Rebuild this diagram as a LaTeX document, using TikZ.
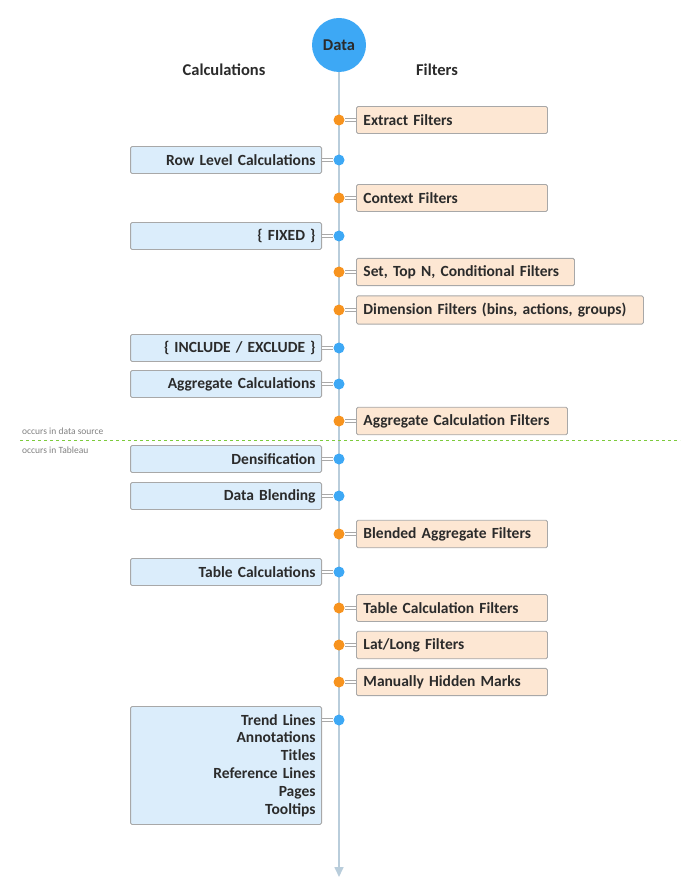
\documentclass[tikz,border=0pt]{standalone}
\usepackage{fontspec}
\setmainfont{Carlito}
\usetikzlibrary{arrows.meta}
\definecolor{spinecol}{HTML}{B9CDDB}
\definecolor{datablue}{HTML}{3DA8F5}
\definecolor{calcfill}{HTML}{DBEDFB}
\definecolor{filtfill}{HTML}{FDE7D3}
\definecolor{dotorange}{HTML}{F7931E}
\definecolor{boxline}{HTML}{A8A8A8}
\definecolor{txtcol}{HTML}{2B2B2B}
\definecolor{splitgreen}{HTML}{7CCB3C}
\tikzstyle{calcbox} = [draw=boxline,fill=calcfill,line width=0.9pt,rounded corners=1.5pt,
  anchor=east,text width=179pt,align=right,minimum height=27pt,inner sep=6pt,
  font=\bfseries\fontsize{15.5}{17.8}\selectfont,text=txtcol]
\tikzstyle{filtbox} = [draw=boxline,fill=filtfill,line width=0.9pt,rounded corners=1.5pt,
  anchor=west,text width=177pt,align=left,minimum height=27pt,inner sep=7pt,
  font=\bfseries\fontsize{15.5}{17.8}\selectfont,text=txtcol]
\tikzstyle{cdot} = [circle,fill=datablue,inner sep=0pt,minimum size=11pt]
\tikzstyle{fdot} = [circle,fill=dotorange,inner sep=0pt,minimum size=11pt]
\tikzstyle{stub} = [draw=boxline,line width=0.8pt,double=white,double distance=1.8pt]
\tikzstyle{header} = [font=\bfseries\fontsize{16.5}{18}\selectfont,text=txtcol]
\tikzstyle{note} = [font=\fontsize{9.5}{11}\selectfont,text=gray,anchor=west,inner sep=0pt]

\begin{document}
\begin{tikzpicture}[x=1pt,y=-1pt]
  \useasboundingbox (0,0) rectangle (691,882);
  \node (data) [circle,fill=datablue,minimum size=54pt,inner sep=0pt,
    font=\bfseries\fontsize{16.5}{18}\selectfont,text=txtcol] at (339,45) {Data};
  \coordinate (bottom) at (339,877);
  \draw[spinecol,line width=1.6pt,-{Triangle[width=9pt,length=10pt]}] (data) -- (bottom);
  \node (calchead) [header] at (224,70) {Calculations};
  \node (filthead) [header] at (437,70) {Filters};
  % left column
  \node (rowlevel) [calcbox] at (322,160) {Row Level Calculations};
  \node (fixed) [calcbox] at (322,236) {\{ FIXED \}};
  \node (inclexcl) [calcbox] at (322,348) {\{ INCLUDE / EXCLUDE \}};
  \node (aggcalc) [calcbox] at (322,384) {Aggregate Calculations};
  \node (densify) [calcbox] at (322,459) {Densification};
  \node (blending) [calcbox] at (322,496) {Data Blending};
  \node (tablecalc) [calcbox] at (322,572) {Table Calculations};
  \node (extras) [calcbox,anchor=north east,minimum height=118pt,inner ysep=3pt] at (322,706)
    {Trend Lines\\Annotations\\Titles\\Reference Lines\\Pages\\Tooltips};
  \coordinate (extrasport) at (322,720);
  % right column
  \node (extract) [filtbox] at (356,120) {Extract Filters};
  \node (context) [filtbox] at (356,198) {Context Filters};
  \node (settopn) [filtbox,text width=204pt] at (356,272) {Set, Top N, Conditional Filters};
  \node (dimension) [filtbox,text width=273pt] at (356,310) {Dimension Filters (bins, actions, groups)};
  \node (aggfilt) [filtbox,text width=197pt] at (356,421) {Aggregate Calculation Filters};
  \node (blended) [filtbox] at (356,534) {Blended Aggregate Filters};
  \node (tcfilt) [filtbox] at (356,608) {Table Calculation Filters};
  \node (latlong) [filtbox] at (356,645) {Lat/Long Filters};
  \node (hidden) [filtbox] at (356,682) {Manually Hidden Marks};
  % dots on the spine
  \foreach \n/\y in {rowlevel/160,fixed/236,inclexcl/348,aggcalc/384,densify/459,
      blending/496,tablecalc/572}{
    \node (\n dot) [cdot] at (339,\y) {};
    \draw[stub] (\n.east) -- (\n dot);
  }
  \node (extrasdot) [cdot] at (339,720) {};
  \draw[stub] (extrasport) -- (extrasdot);
  \foreach \n/\y in {extract/120,context/198,settopn/272,dimension/310,aggfilt/421,
      blended/534,tcfilt/608,latlong/645,hidden/682}{
    \node (\n dot) [fdot] at (339,\y) {};
    \draw[stub] (\n.west) -- (\n dot);
  }
  % data source / Tableau split
  \coordinate (splitl) at (20,440);
  \coordinate (splitr) at (680,440);
  \draw[splitgreen,line width=1pt,dash pattern=on 3pt off 3pt] (splitl) -- (splitr);
  \node (insource) [note] at (22,431) {occurs in data source};
  \node (intableau) [note] at (22,450) {occurs in Tableau};
\end{tikzpicture}
\end{document}
